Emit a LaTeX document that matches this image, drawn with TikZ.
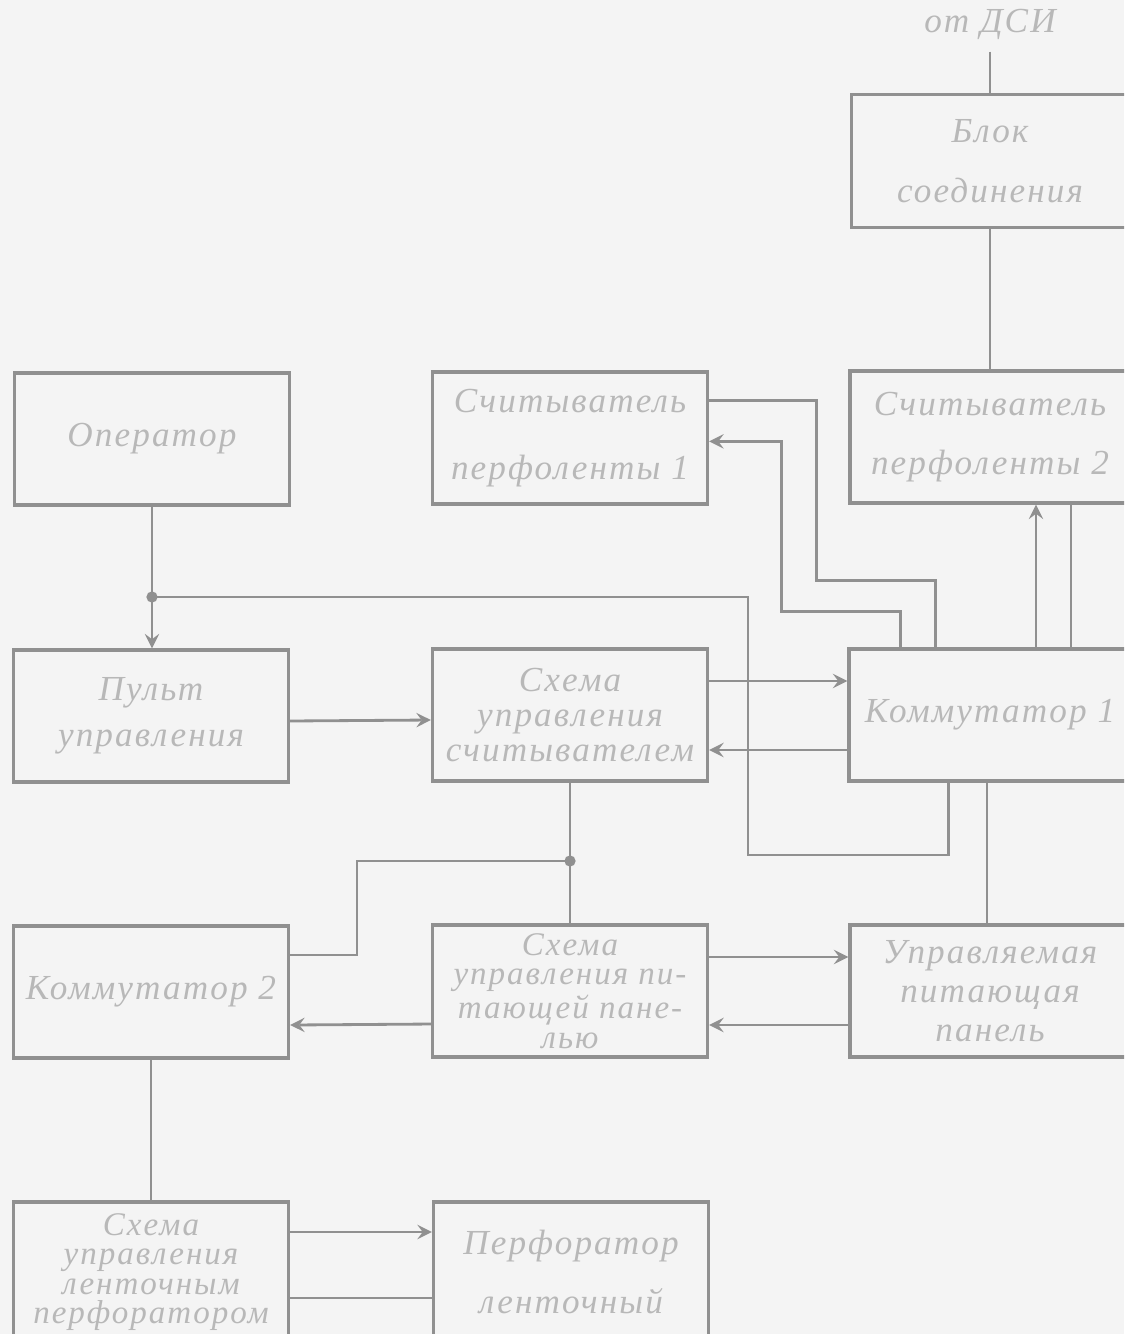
\documentclass[tikz,border=0pt]{standalone}
\usepackage{fontspec}
\setmainfont{Liberation Serif}
\newfontfamily\ruk[LetterSpace=6]{Liberation Serif}
\usetikzlibrary{calc}
\definecolor{linecol}{HTML}{909090}
\definecolor{txtcol}{HTML}{B8B8B8}
\definecolor{paper}{HTML}{F4F4F4}
\begin{document}
\begin{tikzpicture}[x=0.01cm,y=-0.01cm,>=stealth,
  blok/.style={draw=linecol,line width=0.9pt,minimum width=2.75cm,minimum height=1.32cm,
    inner sep=0pt,align=center,text=txtcol,font=\ruk\itshape\fontsize{10}{#1}\selectfont},
  blok/.default=12pt,
  small/.style={font=\ruk\itshape\fontsize{9.4}{8.4pt}\selectfont},
  conn/.style={draw=linecol,line width=0.8pt}]
\fill[paper] (0,0) rectangle (1124,1334);
\useasboundingbox (0,0) rectangle (1124,1334);
\clip (0,0) rectangle (1124,1334);
% blocks
\node[text=txtcol,font=\ruk\itshape\fontsize{10}{12}\selectfont] (dsi) at (990,24) {от ДСИ};
\node[blok=17pt,minimum width=2.77cm,minimum height=1.33cm] (blk) at (990,161) {Блок\\соединения};
\node[blok] (op) at (152,439) {Оператор};
\node[blok=19pt] (sch1) at (570,438) {Считыватель\\перфоленты 1};
\node[blok=17pt,minimum width=2.8cm] (sch2) at (990,437) {Считыватель\\перфоленты 2};
\node[blok=13pt] (pult) at (151,716) {Пульт\\управления};
\node[blok=10pt] (sus) at (570,715) {Схема\\управления\\считывателем};
\node[blok,minimum width=2.82cm] (kom1) at (990,715) {Коммутатор 1};
\node[blok] (kom2) at (151,992) {Коммутатор 2};
\node[blok,small] (sup) at (570,991) {Схема\\управления пи-\\тающей пане-\\лью};
\node[blok=11pt,minimum width=2.8cm] (upp) at (990,991) {Управляемая\\питающая\\панель};
\node[blok,small,minimum height=1.4cm] (sperf) at (151,1272) {Схема\\управления\\ленточным\\перфоратором};
\node[blok=17pt,minimum height=1.4cm] (perf) at (571,1272) {Перфоратор\\ленточный};
% connectors
\draw[conn] (dsi) -- (blk);
\draw[conn] (blk) -- (sch2);
\draw[conn,->] (op) -- (op |- pult.north);
\coordinate (b1) at (op |- 0,597);
\coordinate (b2) at (748,855);
\draw[conn] (b1) -| (b2) -| ($(kom1.south west)+(101,0)$);
\fill[linecol] (b1) circle (1.6pt);
\draw[conn] ($(sch1.north east)+(0,30)$) -| ($(sch1.north east)+(107,210)$) -| ($(kom1.north west)+(88,0)$);
\draw[conn,<-] ($(sch1.north east)+(0,71)$) -| ($(sch1.north east)+(72,241)$) -| ($(kom1.north west)+(53,0)$);
\draw[conn,->] ([xshift=0.46cm]kom1.north) -- ([xshift=0.46cm]sch2.south);
\draw[conn] ([xshift=0.81cm]kom1.north) -- ([xshift=0.81cm]sch2.south);
\draw[conn,->] ([yshift=-0.05cm]pult.east) -- ([yshift=-0.05cm]sus.west);
\draw[conn,->] ([yshift=0.34cm]sus.east) -- ([yshift=0.34cm]kom1.west);
\draw[conn,<-] ([yshift=-0.35cm]sus.east) -- ([yshift=-0.35cm]kom1.west);
\draw[conn] (sus) -- (sup);
\coordinate (b3) at (sus.south |- 0,861);
\fill[linecol] (b3) circle (1.6pt);
\draw[conn] ([yshift=0.37cm]kom2.east) -| ($(b3)+(-213,0)$) -- (b3);
\draw[conn] ([xshift=-0.03cm]kom1.south) -- ([xshift=-0.03cm]upp.north);
\draw[conn,->] ([yshift=0.34cm]sup.east) -- ([yshift=0.34cm]upp.west);
\draw[conn,<-] ([yshift=-0.34cm]sup.east) -- ([yshift=-0.34cm]upp.west);
\draw[conn,->] ([yshift=-0.33cm]sup.west) -- ([yshift=-0.33cm]kom2.east);
\draw[conn] (kom2) -- (sperf);
\draw[conn,->] ([yshift=0.4cm]sperf.east) -- ([yshift=0.4cm]perf.west);
\draw[conn] ([yshift=-0.26cm]sperf.east) -- ([yshift=-0.26cm]perf.west);
\end{tikzpicture}
\end{document}
